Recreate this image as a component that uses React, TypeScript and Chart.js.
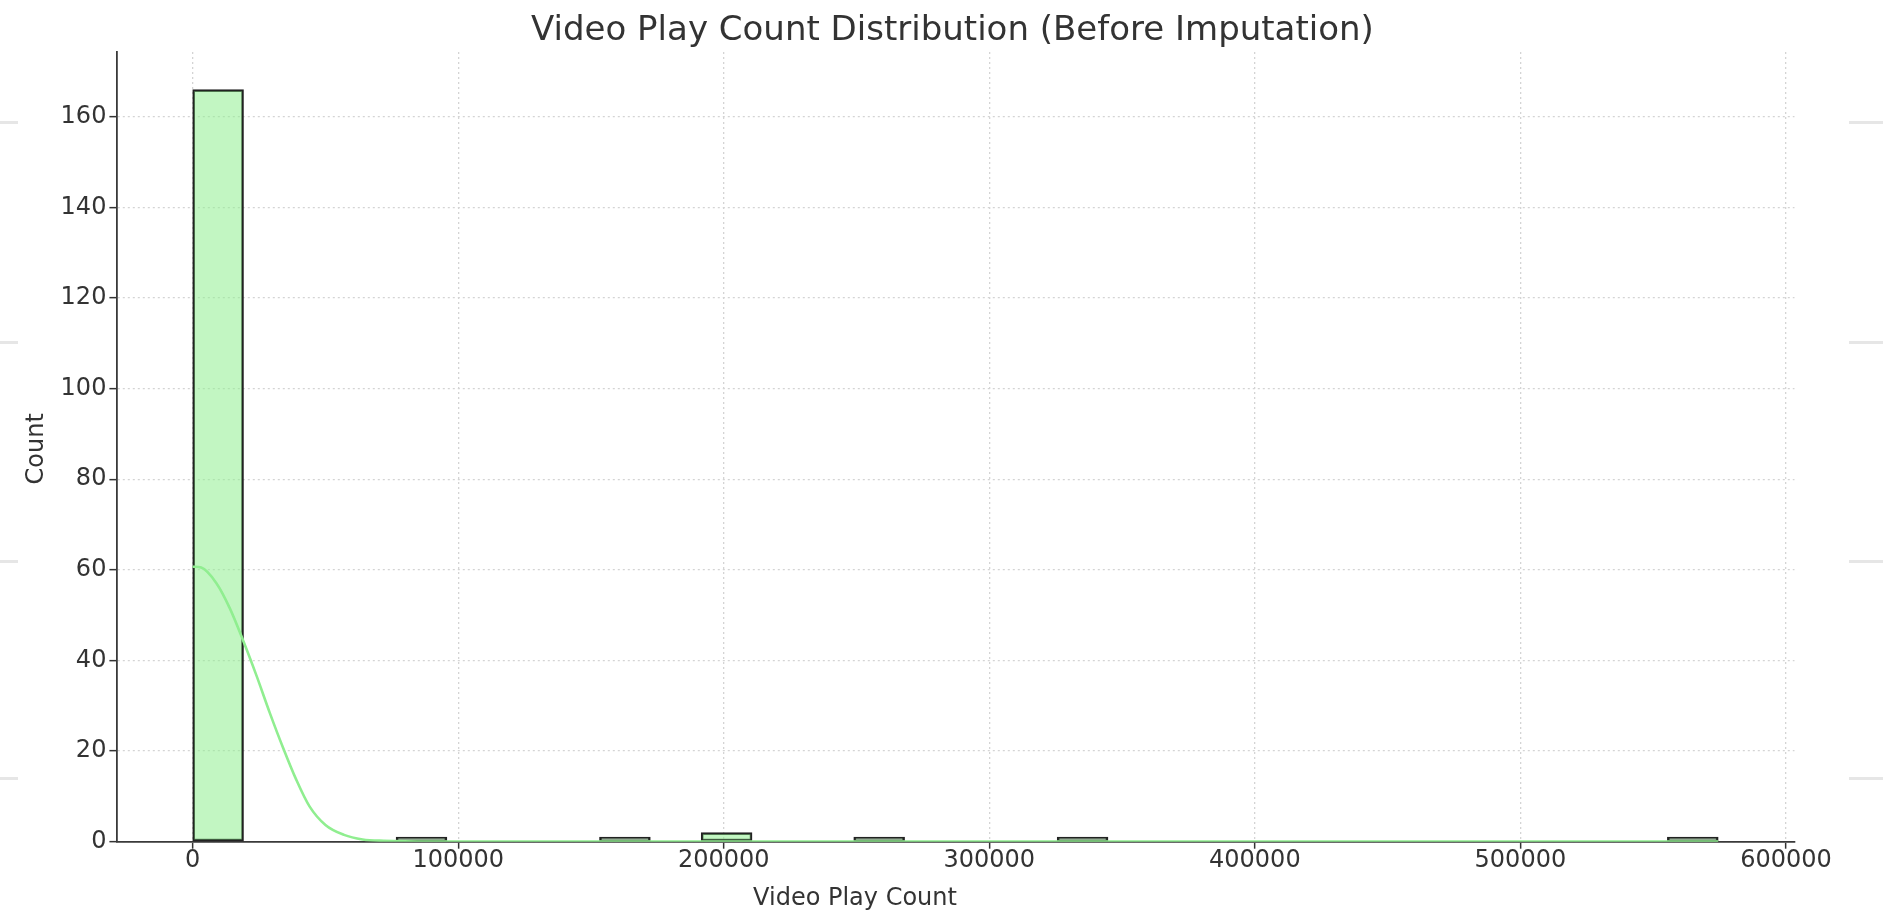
import React, { useEffect, useRef } from "react";
import { Chart, registerables } from "chart.js";

Chart.register(...registerables);

// Histogram of video play counts: 30 equal-width bins starting at the minimum value
const binStart = 0;
const binWidth = 19150;
const binCounts = [
  166, 0, 0, 0, 1, 0, 0, 0, 1, 0,
  2, 0, 0, 1, 0, 0, 0, 1, 0, 0,
  0, 0, 0, 0, 0, 0, 0, 0, 0, 1,
];

// Kernel density estimate, scaled to counts
const kdeX = [0, 3200, 9000, 14000, 19000, 24000, 29000, 34000, 39000, 44000, 50000, 57000, 64000, 72000, 90000, 150000, 250000, 400000, 574500];
const kdeY = [60.7, 60.5, 57.0, 51.5, 44.4, 36.7, 28.5, 20.8, 13.7, 7.8, 3.7, 1.5, 0.5, 0.2, 0.05, 0.05, 0.05, 0.03, 0.02];

// Axis ticks and limits
const xTicks = [0, 100000, 200000, 300000, 400000, 500000, 600000];
const yTicks = [0, 20, 40, 60, 80, 100, 120, 140, 160];
const xLimits = [-28725, 603225];
const yLimits = [0, 174.3];

const titleText = "Video Play Count Distribution (Before Imputation)";
const xLabelText = "Video Play Count";
const yLabelText = "Count";

const FONT = '"DejaVu Sans", "Liberation Sans", sans-serif';
const TEXT = "#333333";

const textPlugin = {
  id: "chartTexts",
  afterDraw(chart: any) {
    const { ctx, chartArea } = chart;
    ctx.save();
    ctx.fillStyle = TEXT;
    ctx.textAlign = "center";
    ctx.textBaseline = "alphabetic";
    ctx.font = `34px ${FONT}`;
    ctx.fillText(titleText, (chartArea.left + chartArea.right) / 2 - 3, 39.6);
    ctx.font = `24px ${FONT}`;
    ctx.fillText(xLabelText, 855, 905);
    ctx.translate(36.7, (chartArea.top + chartArea.bottom) / 2 + 2);
    ctx.rotate(-Math.PI / 2);
    ctx.textBaseline = "middle";
    ctx.fillText(yLabelText, 0, 0);
    ctx.restore();
  },
};

export default function App() {
  const canvasRef = useRef<HTMLCanvasElement | null>(null);

  useEffect(() => {
    const canvas = canvasRef.current;
    if (!canvas) return;

    const barData = binCounts.map((c, i) => ({ x: binStart + (i + 0.5) * binWidth, y: c }));
    const kdeData = kdeX.map((x, i) => ({ x, y: kdeY[i] }));

    const chart = new Chart(canvas, {
      type: "bar",
      data: {
        datasets: [
          {
            type: "line",
            data: kdeData,
            borderColor: "#90ee90",
            borderWidth: 2.6,
            pointRadius: 0,
            cubicInterpolationMode: "monotone",
            order: 0,
          } as any,
          {
            type: "bar",
            data: barData,
            backgroundColor: "rgba(144, 238, 144, 0.55)",
            borderColor: "#222222",
            borderWidth: 2,
            borderSkipped: false,
            barPercentage: 1,
            categoryPercentage: 1,
            order: 1,
          } as any,
        ],
      },
      options: {
        responsive: false,
        animation: false,
        layout: { padding: { left: 0, top: 52, right: 88.5, bottom: 0 } },
        plugins: {
          legend: { display: false },
          title: { display: false },
          tooltip: { enabled: false },
        },
        scales: {
          x: {
            type: "linear",
            offset: false,
            min: xLimits[0],
            max: xLimits[1],
            afterBuildTicks: (scale: any) => {
              scale.ticks = xTicks.map((v) => ({ value: v }));
            },
            afterFit: (scale: any) => {
              scale.height = 77.3;
            },
            ticks: {
              color: TEXT,
              font: { family: FONT, size: 24, lineHeight: 1 },
              padding: 0,
              maxRotation: 0,
              autoSkip: false,
              callback: (v: any) => String(v),
            },
            grid: {
              offset: false,
              color: "#d4d4d4",
              lineWidth: 1.3,
              drawTicks: true,
              tickLength: 7,
              tickColor: "#333333",
              tickWidth: 1.5,
            },
            border: { display: true, color: "#3a3a3a", width: 1.8, dash: [2, 3] },
          },
          y: {
            type: "linear",
            min: yLimits[0],
            max: yLimits[1],
            afterBuildTicks: (scale: any) => {
              scale.ticks = yTicks.map((v) => ({ value: v }));
            },
            afterFit: (scale: any) => {
              scale.width = 116.4;
            },
            ticks: {
              color: TEXT,
              font: { family: FONT, size: 24, lineHeight: 1 },
              padding: 3,
              autoSkip: false,
              callback: (v: any) => String(v),
            },
            grid: {
              color: "#d4d4d4",
              lineWidth: 1.3,
              drawTicks: true,
              tickLength: 7,
              tickColor: "#333333",
              tickWidth: 1.5,
            },
            border: { display: true, color: "#3a3a3a", width: 1.8, dash: [2, 3] },
          },
        },
      },
      plugins: [textPlugin],
    });

    return () => chart.destroy();
  }, []);

  const stubRows = [122, 342, 561, 778];

  return (
    <div style={{ position: "absolute", left: 0, top: 0, width: 1883, height: 919, background: "#ffffff", overflow: "hidden" }}>
      <canvas ref={canvasRef} width={1883} height={919} style={{ display: "block" }} />
      {stubRows.map((y) => (
        <div key={"l" + y} style={{ position: "absolute", left: 0, top: y - 1.5, width: 18, height: 3, background: "#e6e6e6" }} />
      ))}
      {stubRows.map((y) => (
        <div key={"r" + y} style={{ position: "absolute", left: 1849, top: y - 1.5, width: 34, height: 3, background: "#e6e6e6" }} />
      ))}
    </div>
  );
}
